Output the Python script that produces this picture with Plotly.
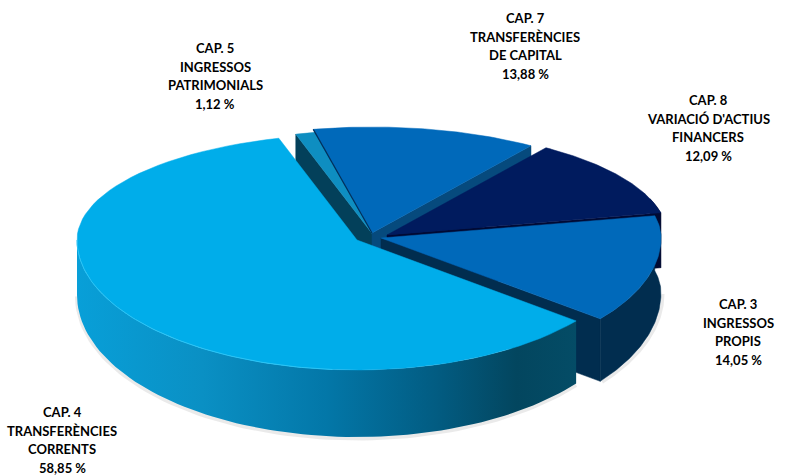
import math
import numpy as np
import plotly.graph_objects as go

# ---- data ----
categories = ["CAP. 4", "CAP. 5", "CAP. 7", "CAP. 8", "CAP. 3"]
names = [["TRANSFERÈNCIES", "CORRENTS"], ["INGRESSOS", "PATRIMONIALS"],
         ["TRANSFERÈNCIES", "DE CAPITAL"], ["VARIACIÓ D'ACTIUS", "FINANCERS"],
         ["INGRESSOS", "PROPIS"]]
values = [58.85, 1.12, 13.88, 12.09, 14.05]

# ---- style / geometry of the drawing ----
START = 38.5
RX, RY_FRONT, RY_BACK = 280, 130, 106
tips = {"CAP. 4": (357, 240), "CAP. 5": (374, 236), "CAP. 7": (372, 233),
        "CAP. 8": (387, 235), "CAP. 3": (381, 238)}
top_col = {"CAP. 4": "#00ADEA", "CAP. 5": "#0E8EC1", "CAP. 7": "#0069BA",
           "CAP. 8": "#001B5E", "CAP. 3": "#0069BA"}
label_pos = {"CAP. 4": (62, 412), "CAP. 5": (215, 48), "CAP. 7": (525, 18),
             "CAP. 8": (708, 100), "CAP. 3": (738, 304)}
LINE_STEP = 18.6
FONT = "Lato"


def warp(t):
    return t + 3.5 * math.exp(-(((t % 360) - 255) / 30) ** 2)


def pt(tip, t):
    a = math.radians(warp(t))
    s = math.sin(a)
    return tip[0] + RX * math.cos(a), tip[1] + (RY_FRONT if s > 0 else RY_BACK) * s


def depth(t):
    s = math.sin(math.radians(warp(t)))
    return 55 + 12 * max(s, 0)


def arc(cat, t0, t1, n=80):
    return [pt(tips[cat], t) for t in np.linspace(t0, t1, n)]


def low(cat, t0, t1, n=80):
    return [(x, y + depth(t)) for (x, y), t in zip(arc(cat, t0, t1, n), np.linspace(t0, t1, n))]


spans = {}
cur = START
for c, v in zip(categories, values):
    spans[c] = (cur, cur + v * 3.6)
    cur += v * 3.6

fig = go.Figure()


def poly(points, color, **kw):
    xs = [p[0] for p in points] + [points[0][0]]
    ys = [p[1] for p in points] + [points[0][1]]
    fig.add_trace(go.Scatter(x=xs, y=ys, mode="lines", fill="toself", fillcolor=color,
                             line=dict(width=0.5, color=color), hoverinfo="skip",
                             showlegend=False, **kw))


def line(points, color, width):
    fig.add_trace(go.Scatter(x=[p[0] for p in points], y=[p[1] for p in points], mode="lines",
                             line=dict(width=width, color=color), hoverinfo="skip", showlegend=False))


def wedge(cat):
    t0, t1 = spans[cat]
    poly([tips[cat]] + arc(cat, t0, t1), top_col[cat])


def cut(cat, t, color):
    tip = tips[cat]
    p = pt(tip, t)
    d = depth(t)
    poly([tip, p, (p[0], p[1] + d), (tip[0], tip[1] + d)], color)


# soft shadow below the front rim
t4 = spans["CAP. 4"]
t3 = spans["CAP. 3"]
line([(x, y + 1.5) for x, y in low("CAP. 4", t4[0], 180)], "rgba(90,90,90,0.13)", 4)
line([(x + 2, y + 1) for x, y in low("CAP. 3", 360, t3[1])], "rgba(90,90,90,0.13)", 3)

# CAP. 5
cut("CAP. 5", spans["CAP. 5"][0], "#03405A")
wedge("CAP. 5")
# CAP. 7
cut("CAP. 7", spans["CAP. 7"][1], "#064A7D")
wedge("CAP. 7")
line([tips["CAP. 7"], pt(tips["CAP. 7"], spans["CAP. 7"][0])], "#02305A", 1.2)
# CAP. 8
cut("CAP. 8", spans["CAP. 8"][1], "#000A33")
poly(arc("CAP. 8", 340, spans["CAP. 8"][1], 30) + low("CAP. 8", spans["CAP. 8"][1], 340, 30)[0:], "#000A33")
wedge("CAP. 8")
# CAP. 3
cut("CAP. 3", spans["CAP. 3"][1] - 360, "#012D4F")
poly(arc("CAP. 3", spans["CAP. 3"][0], spans["CAP. 3"][1])
     + low("CAP. 3", spans["CAP. 3"][1], spans["CAP. 3"][0]), "#012D4F")
wedge("CAP. 3")
# CAP. 4
side = arc("CAP. 4", t4[0], 180) + low("CAP. 4", 180, t4[0])
fig.add_trace(go.Scatter(
    x=[p[0] for p in side] + [side[0][0]], y=[p[1] for p in side] + [side[0][1]],
    mode="lines", fill="toself", line=dict(width=0), hoverinfo="skip", showlegend=False,
    fillgradient=dict(type="horizontal", colorscale=[
        [0.0, "#089FD8"], [0.25, "#0A90C4"], [0.5, "#0377A8"],
        [0.72, "#025C82"], [0.88, "#03465F"], [1.0, "#044C66"]])))
wedge("CAP. 4")
line(arc("CAP. 4", 95, 180), "#2CC4F5", 1)

annotations = []
for c, nm, v in zip(categories, names, values):
    rows = [c] + nm + [f"{v:.2f}".replace(".", ",") + " %"]
    x0, y0 = label_pos[c]
    for i, r in enumerate(rows):
        annotations.append(dict(x=x0, y=y0 + i * LINE_STEP, xref="x", yref="y", text=f"<b>{r}</b>",
                                showarrow=False, xanchor="center", yanchor="middle",
                                font=dict(family=FONT, size=13, color="#000000")))

fig.update_layout(
    width=800, height=475, margin=dict(l=0, r=0, t=0, b=0),
    paper_bgcolor="white", plot_bgcolor="white", showlegend=False,
    xaxis=dict(range=[0, 800], visible=False, fixedrange=True),
    yaxis=dict(range=[475, 0], visible=False, fixedrange=True),
    annotations=annotations,
)
fig.write_html("out.html", config={"displayModeBar": False},
               post_script="document.body.style.margin='0';document.body.style.overflow='hidden';")
